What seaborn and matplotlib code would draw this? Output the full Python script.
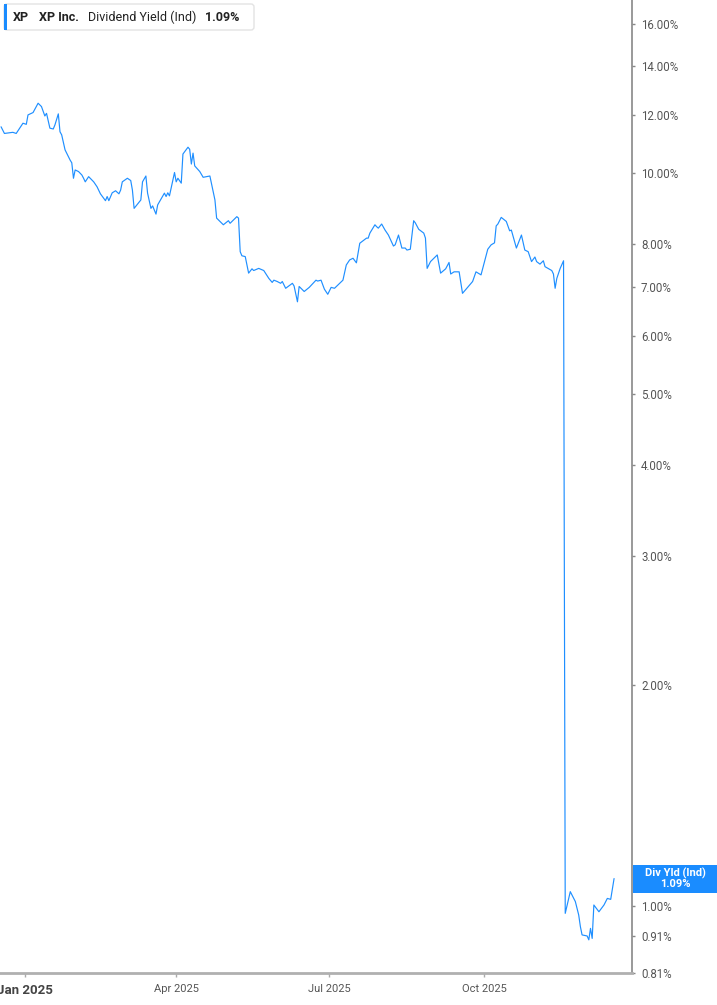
import pandas as pd
import seaborn as sns
import matplotlib
matplotlib.use("Agg")
from matplotlib import pyplot as plt
from matplotlib.patches import FancyBboxPatch, Rectangle
from matplotlib.ticker import FixedLocator, FixedFormatter, NullLocator
from matplotlib.transforms import IdentityTransform

# XP Inc. indicated dividend yield (%)
dates = [
    "2024-12-18", "2024-12-20", "2024-12-25", "2024-12-27", "2024-12-31",
    "2025-01-02", "2025-01-03", "2025-01-06", "2025-01-09", "2025-01-11", "2025-01-13",
    "2025-01-14", "2025-01-16", "2025-01-18", "2025-01-19", "2025-01-21", "2025-01-22",
    "2025-01-23", "2025-01-25", "2025-01-28", "2025-01-29", "2025-01-30", "2025-01-31",
    "2025-02-02", "2025-02-04", "2025-02-05", "2025-02-06", "2025-02-08", "2025-02-11",
    "2025-02-13", "2025-02-15", "2025-02-18", "2025-02-19", "2025-02-20", "2025-02-22",
    "2025-02-24", "2025-02-26", "2025-02-27", "2025-02-28",
    "2025-03-03", "2025-03-05", "2025-03-06", "2025-03-07", "2025-03-11", "2025-03-12",
    "2025-03-14", "2025-03-15", "2025-03-17", "2025-03-18", "2025-03-20", "2025-03-21",
    "2025-03-25", "2025-03-26", "2025-03-27", "2025-03-28", "2025-03-31",
    "2025-04-01", "2025-04-02", "2025-04-04", "2025-04-05", "2025-04-08", "2025-04-09",
    "2025-04-10", "2025-04-11", "2025-04-12", "2025-04-15", "2025-04-17", "2025-04-21",
    "2025-04-24", "2025-04-25", "2025-04-29",
    "2025-05-02", "2025-05-03", "2025-05-07", "2025-05-08", "2025-05-09", "2025-05-10",
    "2025-05-12", "2025-05-14", "2025-05-16", "2025-05-17", "2025-05-20", "2025-05-23",
    "2025-05-26", "2025-05-28", "2025-05-29", "2025-05-31",
    "2025-06-02", "2025-06-03", "2025-06-05", "2025-06-09", "2025-06-10", "2025-06-12",
    "2025-06-13", "2025-06-16", "2025-06-19", "2025-06-23", "2025-06-24", "2025-06-26",
    "2025-06-28", "2025-06-30",
    "2025-07-02", "2025-07-04", "2025-07-09", "2025-07-11", "2025-07-13", "2025-07-15",
    "2025-07-17", "2025-07-19", "2025-07-23", "2025-07-24", "2025-07-25", "2025-07-28",
    "2025-07-29", "2025-07-30",
    "2025-08-01", "2025-08-03", "2025-08-05", "2025-08-08", "2025-08-09", "2025-08-11",
    "2025-08-13", "2025-08-15", "2025-08-16", "2025-08-18", "2025-08-20", "2025-08-21",
    "2025-08-23", "2025-08-26", "2025-08-27", "2025-08-28", "2025-08-30",
    "2025-09-03", "2025-09-05", "2025-09-08", "2025-09-10", "2025-09-11", "2025-09-13",
    "2025-09-16", "2025-09-18", "2025-09-21", "2025-09-23", "2025-09-24", "2025-09-26",
    "2025-09-29",
    "2025-10-03", "2025-10-05", "2025-10-07", "2025-10-08", "2025-10-09", "2025-10-11",
    "2025-10-14", "2025-10-16", "2025-10-17", "2025-10-20", "2025-10-23", "2025-10-25",
    "2025-10-27", "2025-10-29", "2025-10-31",
    "2025-11-01", "2025-11-03", "2025-11-05", "2025-11-06", "2025-11-10", "2025-11-11",
    "2025-11-12", "2025-11-13", "2025-11-15", "2025-11-17", "2025-11-18", "2025-11-21",
    "2025-11-22", "2025-11-24", "2025-11-26", "2025-11-27", "2025-11-28",
    "2025-12-01", "2025-12-02", "2025-12-03", "2025-12-04", "2025-12-05", "2025-12-08",
    "2025-12-11", "2025-12-13", "2025-12-15", "2025-12-17",
]
div_yield = [
    11.58, 11.34, 11.38, 11.34, 11.71,
    11.67, 12.02, 12.11, 12.47, 12.34, 11.98,
    12.08, 11.53, 11.50, 11.65, 12.06, 11.40,
    11.29, 10.77, 10.43, 10.34, 9.85, 10.11,
    10.06, 9.95, 9.85, 9.74, 9.90, 9.74,
    9.59, 9.38, 9.18, 9.30, 9.18, 9.41,
    9.47, 9.38, 9.49, 9.74,
    9.85, 9.78, 9.49, 8.96, 9.20, 9.74,
    9.92, 9.40, 8.96, 9.03, 8.80, 9.06,
    9.40, 9.30, 9.41, 9.32, 10.03,
    9.74, 9.85, 9.70, 10.63, 10.86, 10.79,
    10.30, 10.66, 10.24, 10.06, 9.88, 9.92,
    9.20, 8.69, 8.51,
    8.62, 8.55, 8.73, 8.69, 7.82, 7.72,
    7.70, 7.31, 7.41, 7.37, 7.42, 7.37,
    7.19, 7.10, 7.15, 7.12,
    7.08, 7.12, 6.97, 7.08, 7.02, 6.68,
    7.01, 6.90, 6.99, 7.15, 7.13, 7.15,
    6.95, 6.84,
    6.99, 6.97, 7.15, 7.50, 7.62, 7.66,
    7.55, 8.03, 8.16, 8.16, 8.29, 8.51,
    8.46, 8.42,
    8.53, 8.37, 8.24, 7.96, 7.99, 8.24,
    7.91, 7.91, 7.86, 7.88, 8.62, 8.56,
    8.39, 8.29, 8.16, 7.42, 7.58,
    7.74, 7.31, 7.41, 7.56, 7.29, 7.34,
    7.34, 6.86, 6.99, 7.08, 7.12, 7.34,
    7.27,
    7.88, 7.99, 8.04, 8.48, 8.53, 8.71,
    8.60, 8.35, 8.37, 7.91, 8.24, 7.86,
    7.82, 7.58, 7.69,
    7.58, 7.52, 7.60, 7.46, 7.37, 7.29,
    6.97, 7.19, 7.42, 7.60, 0.977, 1.046,
    1.035, 1.014, 0.972, 0.937, 0.913,
    0.910, 0.899, 0.932, 0.903, 1.003, 0.982,
    1.003, 1.024, 1.021, 1.09,
]

y_ticks = [0.81, 0.91, 1.00, 2, 3, 4, 5, 6, 7, 8, 10, 12, 14, 16]
y_tick_labels = ["0.81%", "0.91%", "1.00%", "2.00%", "3.00%", "4.00%", "5.00%",
                 "6.00%", "7.00%", "8.00%", "10.00%", "12.00%", "14.00%", "16.00%"]
x_ticks = ["2025-01-01", "2025-04-01", "2025-07-01", "2025-10-01"]
x_tick_labels = ["Jan 2025", "Apr 2025", "Jul 2025", "Oct 2025"]
last_value = 1.09

BLUE = "#1a8cff"
LINE = "#1f8fff"

sns.set_theme(style="white")
plt.rcParams["font.family"] = ["Roboto", "DejaVu Sans"]

df = pd.DataFrame({"date": pd.to_datetime(dates), "yield": div_yield})

W, H = 717, 1005
fig = plt.figure(figsize=(W / 100, H / 100), dpi=100)
ax = fig.add_axes([0, 32 / H, 632 / W, 973 / H])

sns.lineplot(data=df, x="date", y="yield", ax=ax, color=LINE, linewidth=0.85)

ax.set_yscale("log")
ax.set_ylim(0.81, 17.25)
ax.set_xlim(pd.Timestamp("2024-12-17 09:00"), pd.Timestamp("2025-12-27 15:30"))
ax.set_xlabel("")
ax.set_ylabel("")
ax.grid(False)

ax.yaxis.tick_right()
ax.yaxis.set_major_locator(FixedLocator(y_ticks))
ax.yaxis.set_major_formatter(FixedFormatter(y_tick_labels))
ax.yaxis.set_minor_locator(NullLocator())
ax.tick_params(axis="y", which="major", right=True, left=False, length=2, width=1,
               color="#888888", pad=4.5, labelsize=8.3, labelcolor="#555555")

ax.set_xticks(pd.to_datetime(x_ticks))
ax.set_xticklabels(x_tick_labels)
ax.tick_params(axis="x", bottom=True, length=3, width=1, color="#aaaaaa", pad=5,
               labelsize=8, labelcolor="#555555")
jan = ax.get_xticklabels()[0]
jan.set_fontweight("bold")
jan.set_fontsize(9.5)
jan.set_color("#444444")

for s in ["top", "left"]:
    ax.spines[s].set_visible(False)
ax.spines["right"].set_color("#888888")
ax.spines["right"].set_linewidth(1.2)
ax.spines["bottom"].set_color("#b0b0b0")
ax.spines["bottom"].set_linewidth(2)

# header box, top left (pixel coordinates)
px = IdentityTransform()
fig.patches.append(FancyBboxPatch((4, H - 30), 250, 26,
                                  boxstyle="round,pad=0,rounding_size=3",
                                  facecolor="white", edgecolor="#e3e3e3",
                                  linewidth=1, transform=px, figure=fig))
fig.patches.append(Rectangle((4, H - 30), 3, 26, facecolor=BLUE, edgecolor="none",
                             transform=px, figure=fig))
hy = H - 17
fig.text(13, hy, "XP", transform=px, fontsize=9, fontweight="bold", color="#222222", va="center")
fig.text(39, hy, "XP Inc.", transform=px, fontsize=9, fontweight="bold", color="#222222", va="center")
fig.text(88, hy, "Dividend Yield (Ind)", transform=px, fontsize=9, color="#222222", va="center")
fig.text(205, hy, "1.09%", transform=px, fontsize=9, fontweight="bold", color="#222222", va="center")

# last value tag on the right axis
y_disp = ax.transData.transform((ax.get_xlim()[0], last_value))[1]
fig.patches.append(Rectangle((633, y_disp - 14), 84, 28, facecolor=BLUE, edgecolor="none",
                             transform=px, figure=fig))
fig.text(675, y_disp + 5.5, "Div Yld (Ind)", transform=px, fontsize=8, fontweight="bold",
         color="white", ha="center", va="center")
fig.text(675, y_disp - 5.5, f"{last_value:.2f}%", transform=px, fontsize=8, fontweight="bold",
         color="white", ha="center", va="center")

fig.savefig("out.png", dpi=100)
